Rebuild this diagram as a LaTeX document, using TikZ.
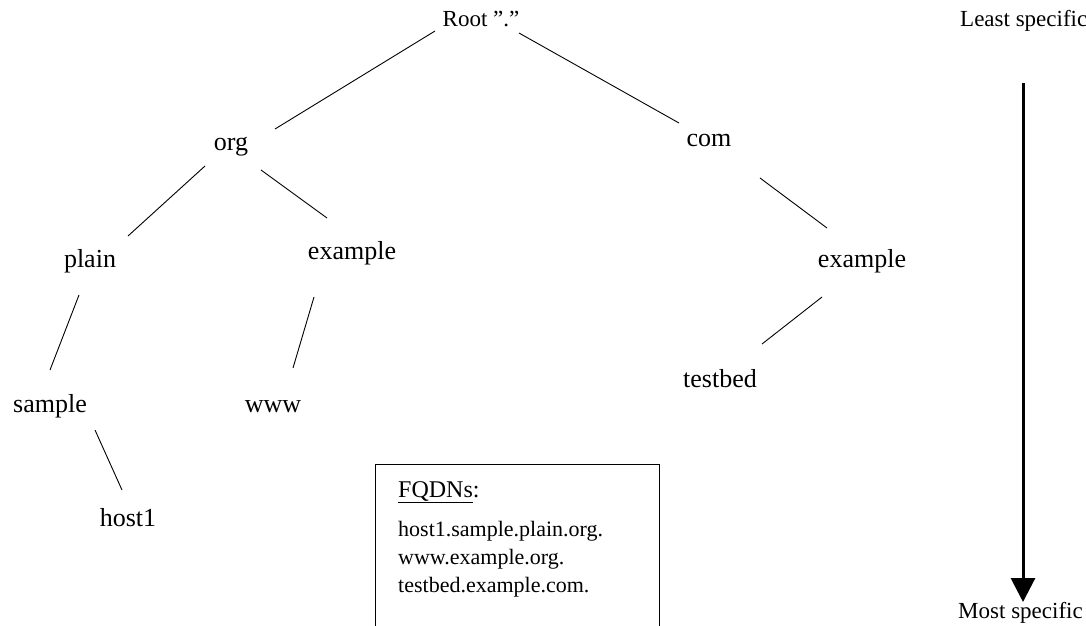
\documentclass[tikz,border=0pt]{standalone}
\usepackage{fontspec}
\setmainfont{Liberation Serif}
\usetikzlibrary{arrows.meta}
\begin{document}
\begin{tikzpicture}[x=1pt,y=-1pt,
  lbl/.style={anchor=base,inner sep=0pt,font=\fontsize{26}{30}\selectfont},
  edge/.style={line width=0.9pt},
  side/.style={anchor=base west,inner sep=0pt,font=\fontsize{23}{27}\selectfont},
  listbox/.style={draw,line width=1pt,anchor=north west,minimum width=284pt,minimum height=200pt,inner sep=0pt},
  listtext/.style={anchor=north west,inner sep=0pt,align=left,font=\fontsize{22}{28}\selectfont}]
\useasboundingbox (0,0) rectangle (1086,625);

% domain tree labels
\node[lbl,font=\fontsize{23}{27}\selectfont] (root) at (481,26) {Root ”.”};
\node[lbl] (org) at (231,150) {org};
\node[lbl] (com) at (709,146) {com};
\node[lbl] (plain) at (90,267) {plain};
\node[lbl] (exorg) at (352,259) {example};
\node[lbl] (excom) at (862,267) {example};
\node[lbl] (sample) at (50,412) {sample};
\node[lbl] (www) at (273,412) {www};
\node[lbl] (testbed) at (720,387) {testbed};
\node[lbl] (host) at (128,526) {host1};

% tree edges
\draw[edge] ([shift={(-46,5)}]root.base) -- ([shift={(44,-21)}]org.base);
\draw[edge] ([shift={(38,7)}]root.base) -- ([shift={(-30,-23)}]com.base);
\draw[edge] ([shift={(-26,16)}]org.base) -- ([shift={(38,-31)}]plain.base);
\draw[edge] ([shift={(30,20)}]org.base) -- ([shift={(-25,-41)}]exorg.base);
\draw[edge] ([shift={(51,32)}]com.base) -- ([shift={(-35,-39)}]excom.base);
\draw[edge] ([shift={(-40,30)}]excom.base) -- ([shift={(42,-43)}]testbed.base);
\draw[edge] ([shift={(-11,28)}]plain.base) -- ([shift={(0,-42)}]sample.base);
\draw[edge] ([shift={(-38,38)}]exorg.base) -- ([shift={(20,-44)}]www.base);
\draw[edge] ([shift={(45,18)}]sample.base) -- ([shift={(-6,-36)}]host.base);

% list of fully qualified names
\node[listbox] (box) at (375,464) {};
\node[listtext] (names) at ([shift={(23,17)}]box.north west)
  {{\fontsize{24}{28}\selectfont\underline{FQDNs}:}\\[11pt]
   host1.sample.plain.org.\\
   www.example.org.\\
   testbed.example.com.};

% specificity scale
\node[side] (least) at (960,26) {Least specific};
\node[side] (most) at (958,618) {Most specific};
\draw[line width=3pt,-{Triangle[width=24pt,length=24pt]}] ([shift={(63,57)}]least.base west) -- ([shift={(65,-16)}]most.base west);
\end{tikzpicture}
\end{document}
